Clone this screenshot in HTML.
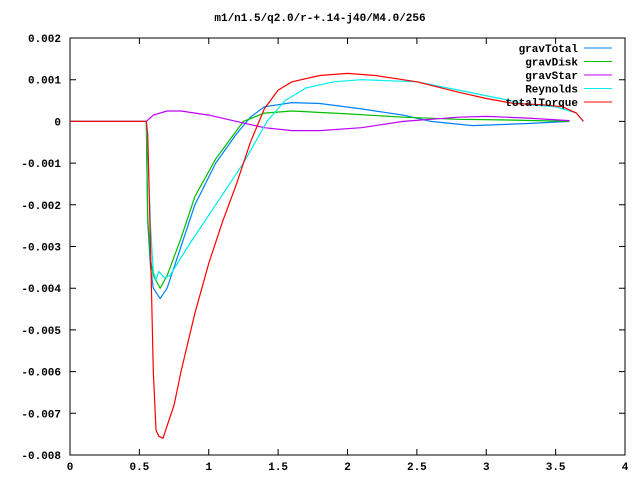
<!DOCTYPE html>
<html><head><meta charset="utf-8"><style>
body{margin:0;background:#fff}
text{font-family:"Liberation Mono",monospace;font-size:11px;font-weight:bold;fill:#000}
</style></head><body>
<svg id="c" width="640" height="480" xmlns="http://www.w3.org/2000/svg">
<text x="320" y="21" text-anchor="middle">m1/n1.5/q2.0/r-+.14-j40/M4.0/256</text>
<rect x="70" y="38" width="555" height="417" fill="none" stroke="#000"/>
<g id="axes"></g><g id="series"></g><g id="legend"></g>
</svg>
<script>
const xTicks=[0,0.5,1,1.5,2,2.5,3,3.5,4];
const xTickLabels=["0","0.5","1","1.5","2","2.5","3","3.5","4"];
const yTicks=[0.002,0.001,0,-0.001,-0.002,-0.003,-0.004,-0.005,-0.006,-0.007,-0.008];
const yTickLabels=["0.002","0.001","0","-0.001","-0.002","-0.003","-0.004","-0.005","-0.006","-0.007","-0.008"];
const seriesNames=["gravTotal","gravDisk","gravStar","Reynolds","totalTorque"];
const seriesColors=["#0080ff","#00c000","#c000ff","#00eeee","#ff0000"];
// values in units of 1e-3
const gravTotalX=[0,0.55,0.56,0.58,0.6,0.65,0.7,0.8,0.9,1.05,1.2,1.3,1.4,1.6,1.8,2.1,2.4,2.6,2.9,3.3,3.6];
const gravTotalY=[0,0,-2.4,-3.5,-4.0,-4.25,-4.0,-3.0,-2.0,-1.0,-0.3,0.1,0.35,0.45,0.43,0.3,0.15,0,-0.1,-0.05,0];
const gravDiskX=[0,0.55,0.56,0.58,0.6,0.65,0.7,0.8,0.9,1.05,1.25,1.4,1.6,2.0,2.4,2.8,3.2,3.6];
const gravDiskY=[0,0,-2.3,-3.3,-3.7,-4.0,-3.7,-2.8,-1.8,-0.9,0,0.2,0.25,0.18,0.1,0.05,0.03,0];
const gravStarX=[0,0.55,0.6,0.7,0.8,1.0,1.2,1.4,1.6,1.8,2.1,2.4,2.8,3.0,3.3,3.6];
const gravStarY=[0,0,0.15,0.25,0.25,0.15,0,-0.15,-0.22,-0.22,-0.15,0,0.1,0.12,0.08,0.02];
const reynoldsX=[0,0.55,0.56,0.58,0.6,0.62,0.64,0.68,0.72,0.85,1.05,1.25,1.42,1.55,1.7,1.9,2.1,2.5,2.8,3.1,3.3,3.5,3.65,3.7];
const reynoldsY=[0,0,-0.5,-2.5,-3.6,-3.8,-3.6,-3.75,-3.7,-3.0,-2.0,-1.0,0,0.5,0.8,0.95,1.0,0.95,0.75,0.55,0.4,0.35,0.2,0];
const totalX=[0,0.55,0.56,0.58,0.6,0.62,0.64,0.67,0.7,0.75,0.8,0.9,1.0,1.1,1.2,1.3,1.4,1.5,1.6,1.8,2.0,2.2,2.5,2.8,3.0,3.2,3.4,3.55,3.65,3.7];
const totalY=[0,0,-0.3,-3,-6,-7.4,-7.55,-7.6,-7.3,-6.8,-6,-4.6,-3.4,-2.4,-1.5,-0.5,0.3,0.75,0.95,1.1,1.15,1.1,0.95,0.7,0.55,0.43,0.4,0.35,0.2,0];
const NS="http://www.w3.org/2000/svg";
const sx=v=>70+v*138.75, sy=v=>121.4-v*41700;
function mk(tag,attrs,parent){const e=document.createElementNS(NS,tag);for(const k in attrs)e.setAttribute(k,attrs[k]);parent.appendChild(e);return e;}
const ax=document.getElementById('axes');
xTicks.forEach((t,i)=>{
 const l=mk('path',{d:`M${sx(t)} 455v-6M${sx(t)} 38v6`,stroke:'#000'},ax);
 
 
 const tx=mk('text',{x:sx(t),y:470,'text-anchor':'middle'},ax);tx.textContent=xTickLabels[i];
 
 
});
yTicks.forEach((t,i)=>{
 const l=mk('path',{d:`M70 ${sy(t)}h6M625 ${sy(t)}h-6`,stroke:'#000'},ax);
 
 
 const tx=mk('text',{x:61,y:sy(t)+4,'text-anchor':'end'},ax);tx.textContent=yTickLabels[i];
 
 
});
const data=[[gravTotalX,gravTotalY],[gravDiskX,gravDiskY],[gravStarX,gravStarY],[reynoldsX,reynoldsY],[totalX,totalY]];
const sg=document.getElementById('series'),lg=document.getElementById('legend');
data.forEach((d,i)=>{
 const pts=d[0].map((x,j)=>sx(x).toFixed(1)+','+sy(d[1][j]/1000).toFixed(1)).join(' ');
 const p=mk('polyline',{points:pts,fill:'none',stroke:seriesColors[i],'stroke-width':1.2,'stroke-linejoin':'round'},sg);
 
 
 const y=48+i*13.5;
 const t=mk('text',{x:578,y:y+4,'text-anchor':'end'},lg);t.textContent=seriesNames[i];
 
 
 const l=mk('line',{x1:584,x2:612,y1:y,y2:y,stroke:seriesColors[i]},lg);
 
 
});
</script>
</body></html>
